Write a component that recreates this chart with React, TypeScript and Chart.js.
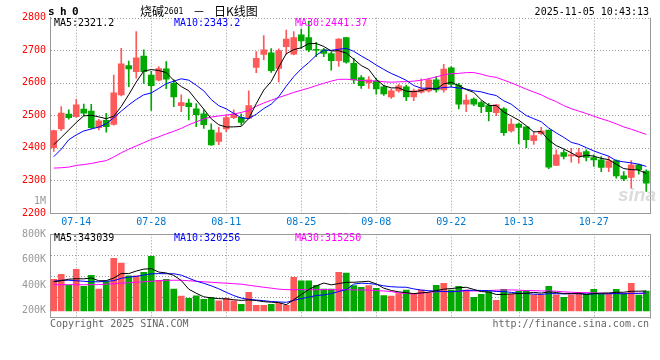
import React, { useEffect, useRef } from 'react';
import { Chart, registerables } from 'chart.js';

Chart.register(...registerables);

// ---------- data ----------
const DATES = [
  '07-09','07-10','07-11','07-14','07-15','07-16','07-17','07-18','07-21','07-22',
  '07-23','07-24','07-25','07-28','07-29','07-30','07-31','08-01','08-04','08-05',
  '08-06','08-07','08-08','08-11','08-12','08-13','08-14','08-15','08-18','08-19',
  '08-20','08-21','08-22','08-25','08-26','08-27','08-28','08-29','09-01','09-02',
  '09-03','09-04','09-05','09-08','09-09','09-10','09-11','09-12','09-15','09-16',
  '09-17','09-18','09-19','09-22','09-23','09-24','09-25','09-26','09-29','09-30',
  '10-09','10-10','10-13','10-14','10-15','10-16','10-17','10-20','10-21','10-22',
  '10-23','10-24','10-27','10-28','10-29','10-30','10-31','11-03','11-04','11-05',
];
const TICK_DATES = ['07-14','07-28','08-11','08-25','09-08','09-22','10-13','10-27'];

const OPEN = [
  2401,2458,2504,2496,2519,2513,2462,2485,2472,2563,
  2653,2634,2682,2624,2608,2643,2598,2530,2538,2520,
  2505,2455,2420,2458,2493,2494,2491,2647,2687,2692,
  2644,2711,2688,2747,2739,2702,2701,2690,2668,2739,
  2660,2616,2600,2605,2588,2557,2575,2588,2557,2571,
  2575,2609,2578,2646,2593,2534,2550,2539,2530,2508,
  2520,2452,2473,2465,2422,2444,2455,2346,2386,2375,
  2373,2389,2370,2363,2340,2361,2314,2309,2348,2329,
];
const HIGH = [
  2455,2527,2517,2549,2535,2534,2488,2506,2624,2706,
  2667,2757,2701,2635,2650,2665,2609,2563,2550,2536,
  2517,2474,2463,2501,2517,2505,2575,2696,2745,2705,
  2704,2762,2757,2765,2790,2724,2706,2695,2736,2740,
  2675,2622,2619,2614,2593,2581,2595,2593,2581,2612,
  2612,2619,2657,2650,2598,2563,2554,2544,2537,2534,
  2524,2489,2476,2465,2450,2463,2455,2394,2394,2399,
  2399,2394,2379,2373,2373,2363,2327,2361,2350,2333,
];
const LOW = [
  2389,2453,2488,2494,2498,2459,2455,2448,2470,2560,
  2588,2614,2598,2515,2606,2582,2527,2511,2486,2465,
  2460,2408,2410,2450,2490,2470,2490,2631,2670,2632,
  2603,2688,2686,2706,2696,2680,2680,2639,2650,2660,
  2598,2583,2583,2565,2561,2552,2571,2545,2545,2568,
  2571,2571,2571,2588,2520,2511,2530,2508,2483,2499,
  2438,2448,2412,2401,2411,2440,2336,2346,2366,2356,
  2353,2360,2343,2327,2327,2307,2299,2276,2319,2266,
];
const CLOSE = [
  2453,2507,2493,2532,2507,2462,2483,2465,2569,2658,
  2643,2677,2634,2591,2644,2611,2557,2539,2527,2502,
  2471,2409,2446,2493,2504,2478,2530,2675,2701,2637,
  2699,2734,2739,2729,2701,2700,2690,2668,2734,2663,
  2609,2591,2609,2581,2566,2575,2591,2557,2575,2581,
  2609,2578,2642,2595,2534,2547,2534,2527,2511,2532,
  2447,2473,2463,2425,2438,2452,2341,2379,2374,2379,
  2386,2371,2363,2340,2360,2314,2305,2348,2333,2292,
];

const MA5 = [
  2410,2432,2455,2478,2498.4,2500.2,2495.4,2489.8,2497.2,2527.4,
  2563.6,2602.4,2636.2,2640.6,2637.8,2631.4,2607.4,2588.4,2575.6,2547.2,
  2519.2,2489.6,2471,2464.2,2464.6,2466,2490.2,2536,2577.6,2604.2,
  2648.4,2689.2,2702,2707.6,2720.4,2720.6,2711.8,2697.6,2698.6,2691,
  2672.8,2653,2641.2,2610.6,2591.2,2584.4,2584.4,2574,2572.8,2575.8,
  2582.6,2580,2597,2601,2591.6,2579.2,2570.4,2547.4,2530.6,2530.2,
  2510.2,2498,2485.2,2468,2449.2,2450.2,2423.8,2407,2396.8,2385,
  2371.8,2377.8,2374.6,2367.8,2364,2349.6,2336.4,2333.4,2332,2321.2,
];
const MA10 = [
  2373,2396,2425,2440,2452,2458,2464,2474,2493,2512.9,
  2531.9,2548.9,2563,2568.9,2582.6,2597.5,2604.9,2612.3,2608.1,2592.5,
  2575.3,2548.5,2529.7,2519.9,2505.9,2492.6,2489.9,2503.5,2520.9,2534.4,
  2557.2,2589.7,2619,2642.6,2662.3,2684.5,2700.5,2699.8,2703.1,2705.7,
  2696.7,2682.4,2669.4,2654.6,2641.1,2628.6,2618.7,2607.6,2591.7,2583.5,
  2583.5,2582.2,2585.5,2586.9,2583.7,2580.9,2575.2,2572.2,2565.8,2560.9,
  2544.7,2534.2,2516.3,2499.3,2489.7,2480.2,2460.9,2446.1,2432.4,2417.1,
  2411,2400.8,2390.8,2382.3,2374.5,2360.7,2357.1,2354,2349.9,2343.2,
];
const MA30 = [
  2338,2339,2341,2346,2349,2352,2357,2361,2372,2385,
  2396,2406,2416,2426,2434,2443,2451,2460,2471,2480,
  2489,2495,2498,2501,2504,2509,2515,2528,2538,2546.6,
  2554.8,2562.4,2570.6,2577.1,2583.6,2591.5,2598.4,2605.2,2610.7,2610.9,
  2609.7,2606.9,2606,2605.7,2603.1,2601.9,2603,2603.6,2605.2,2607.9,
  2612.5,2618.1,2624.6,2628,2629,2631.3,2631.5,2626.5,2620.2,2616.7,
  2608.3,2599.6,2590.4,2580.3,2571.5,2563.2,2551.6,2542,2530,2520.5,
  2513.1,2505.7,2497.5,2489.5,2482.6,2473.9,2464.4,2457.4,2449.4,2441.37,
];

const VOLUME = [
  448000,487000,403000,526000,393000,479000,370000,429000,612000,575000,
  474000,474000,502000,628000,440000,448000,370000,315000,299000,317000,
  291000,304000,278000,299000,278000,252000,346000,244000,244000,252000,
  260000,244000,463000,435000,435000,401000,370000,370000,502000,497000,
  398000,385000,398000,377000,320000,315000,336000,362000,336000,362000,
  338000,401000,416000,362000,393000,362000,307000,330000,351000,283000,
  369000,330000,354000,359000,325000,325000,393000,325000,307000,325000,
  346000,330000,369000,330000,330000,369000,336000,416000,323000,356000,
];
const VMA5 = [
  428000,436000,448000,452000,451000,458000,436000,437000,457000,493000,
  492000,512000,527000,531000,504000,497000,478000,438000,370000,338000,
  310000,302000,296000,294000,287000,282000,286000,281000,272000,268000,
  265000,248000,288000,328000,367000,396000,418000,404000,414000,424000,
  424000,428000,432000,411000,378000,360000,349000,342000,335000,341000,
  346000,358000,370000,375000,381000,385000,368000,351000,348000,328000,
  329000,333000,336000,338000,345000,339000,349000,344000,335000,335000,
  338000,328000,335000,339000,340000,345000,346000,354000,354000,356000,
];
const VMA10 = [
  432000,440000,440000,436000,432000,428000,428000,432000,436000,455000,
  465000,470000,481000,490000,492000,491000,491000,480000,456000,433000,
  416000,396000,373000,345000,320000,300000,290000,285000,280000,273000,
  270000,267000,282000,296000,308000,320000,325000,335000,352000,366000,
  410000,417000,414000,408000,396000,389000,386000,385000,372000,363000,
  358000,354000,352000,350000,354000,361000,361000,360000,358000,352000,
  351000,345000,338000,336000,331000,329000,335000,335000,333000,335000,
  334000,333000,334000,333000,334000,336000,333000,338000,338000,340000,
];
const VMA30 = [
  405000,405000,405000,405000,405000,405000,406000,409000,413000,417000,
  420000,424000,428000,432000,436000,440000,440000,440000,436000,432000,
  428000,424000,420000,417000,413000,409000,401000,393000,385000,378000,
  370000,366000,366000,366000,366000,366000,366000,366000,366000,366000,
  364000,364000,362000,359000,356000,351000,341000,336000,333000,338000,
  346000,349000,351000,351000,354000,356000,356000,356000,359000,362000,
  364000,364000,362000,359000,359000,356000,356000,354000,349000,346000,
  343000,343000,341000,338000,338000,338000,338000,336000,336000,336000,
];

const PRICE_TICKS = [2200, 2300, 2400, 2500, 2600, 2700, 2800];
const VOL_TICKS = [200000, 400000, 600000, 800000];
const VOL_BASE = 200000;
const VOL_MIN = 148000;
const VOL_MAX = 800000;
const GRID_STEPS = [1, 2, 3];

// ---------- style ----------
const UP = '#ff5a5a';
const DOWN = '#00a800';
const MONO = '"DejaVu Sans Mono", "Liberation Mono", monospace';
const GRID = '#9a9a9a';
const FRAME = '#999999';

const candleColors = CLOSE.map((c, i) => (c >= OPEN[i] ? UP : DOWN));

// dotted grid drawn from the chart's own scales, plus the solid frame edges
const gridPlugin = {
  id: 'dotgrid',
  beforeDatasetsDraw(chart: any, _args: any, opts: any) {
    const { ctx, chartArea: a, scales } = chart;
    ctx.save();
    ctx.strokeStyle = GRID;
    ctx.lineWidth = 1;
    ctx.setLineDash([1, 2]);
    ctx.beginPath();
    const ys = scales[opts.yScale];
    const yVals: number[] = opts.yValues || [];
    yVals.forEach((v) => {
      const y = Math.round(ys.getPixelForValue(v)) + 0.5;
      ctx.moveTo(a.left + 1, y);
      ctx.lineTo(a.right, y);
    });
    const xs = scales.x;
    DATES.forEach((d, i) => {
      if (!TICK_DATES.includes(d)) return;
      const x = Math.round(xs.getPixelForValue(i)) + 0.5;
      ctx.moveTo(x, a.top);
      ctx.lineTo(x, a.bottom);
    });
    ctx.stroke();
    ctx.restore();
  },
  afterDatasetsDraw(chart: any, _args: any, opts: any) {
    const { ctx, chartArea: a } = chart;
    ctx.save();
    ctx.strokeStyle = FRAME;
    ctx.lineWidth = 1;
    ctx.setLineDash([]);
    ctx.beginPath();
    const sides: string[] = opts.sides || [];
    if (sides.includes('right')) {
      const x = Math.round(a.right) + 0.5;
      ctx.moveTo(x, a.top);
      ctx.lineTo(x, a.bottom + 1);
    }
    if (sides.includes('top')) {
      const y = Math.round(a.top) + 0.5;
      ctx.moveTo(a.left, y);
      ctx.lineTo(a.right + 1, y);
    }
    ctx.stroke();
    ctx.restore();
  },
};

function lineDs(label: string, data: number[], color: string) {
  return {
    type: 'line' as const,
    label,
    data,
    borderColor: color,
    borderWidth: 1,
    pointRadius: 0,
    tension: 0,
    fill: false,
    order: 0,
  };
}

function Txt(props: any) {
  const { x, right, cy, size = 10, color = '#000', bold = false, family = MONO, ls, children } = props;
  const style: any = {
    position: 'absolute',
    top: cy - size * 0.62,
    fontSize: size,
    lineHeight: `${Math.round(size * 1.2)}px`,
    fontFamily: family,
    color,
    fontWeight: bold ? 'bold' : 'normal',
    whiteSpace: 'nowrap',
  };
  if (ls !== undefined) style.letterSpacing = ls;
  if (right !== undefined) {
    style.right = right;
    style.textAlign = 'right';
  } else style.left = x;
  return <div style={style}>{children}</div>;
}

export default function App() {
  const mainRef = useRef<HTMLCanvasElement>(null);
  const volRef = useRef<HTMLCanvasElement>(null);

  useEffect(() => {
    const main = new Chart(mainRef.current as HTMLCanvasElement, {
      type: 'bar',
      data: {
        labels: DATES,
        datasets: [
          lineDs('MA5', MA5, '#000000'),
          lineDs('MA10', MA10, '#0000ff'),
          lineDs('MA30', MA30, '#ff00ff'),
          {
            label: 'body',
            data: OPEN.map((o, i) => [o, CLOSE[i]]),
            backgroundColor: candleColors,
            barThickness: 6,
            grouped: false,
            minBarLength: 1,
            order: 1,
          } as any,
          {
            label: 'wick',
            data: LOW.map((l, i) => [l, HIGH[i]]),
            backgroundColor: candleColors,
            barThickness: 1,
            grouped: false,
            order: 2,
          } as any,
        ],
      },
      options: {
        responsive: false,
        maintainAspectRatio: false,
        animation: false,
        layout: { padding: { top: 17.7, right: 10, left: 0, bottom: 0 } },
        plugins: {
          legend: { display: false },
          tooltip: { enabled: false },
          dotgrid: { sides: ['right'], yScale: 'y', yValues: PRICE_TICKS.slice(1) },
        } as any,
        scales: {
          x: {
            offset: true,
            grid: { display: false, drawTicks: false },
            border: { display: true, color: FRAME },
            ticks: {
              autoSkip: false,
              maxRotation: 0,
              minRotation: 0,
              padding: 3.5,
              color: '#0078d0',
              font: { family: MONO, size: 10 },
              callback: (_v: any, i: number) => (TICK_DATES.includes(DATES[i]) ? DATES[i] : ''),
            },
            afterFit: (s: any) => {
              s.height = 15;
            },
          },
          y: {
            min: 2200,
            max: 2800,
            afterBuildTicks: (s: any) => {
              s.ticks = PRICE_TICKS.map((v) => ({ value: v }));
            },
            grid: { display: false, drawTicks: false },
            border: { display: true, color: FRAME },
            ticks: {
              padding: 4,
              color: '#ff0000',
              font: { family: MONO, size: 10 },
              callback: (v: any) => String(v),
            },
            afterFit: (s: any) => {
              s.width = 50;
            },
          },
        },
      },
      plugins: [gridPlugin],
    });

    const vol = new Chart(volRef.current as HTMLCanvasElement, {
      type: 'bar',
      data: {
        labels: DATES,
        datasets: [
          lineDs('MA5', VMA5, '#000000'),
          lineDs('MA10', VMA10, '#0000ff'),
          lineDs('MA30', VMA30, '#ff00ff'),
          {
            label: 'volume',
            data: VOLUME.map((v) => [VOL_BASE, v]),
            backgroundColor: candleColors,
            barThickness: 6,
            grouped: false,
            order: 1,
          } as any,
        ],
      },
      options: {
        responsive: false,
        maintainAspectRatio: false,
        animation: false,
        layout: { padding: { top: 10.3, right: 10, left: 0, bottom: 42.5 } },
        plugins: {
          legend: { display: false },
          tooltip: { enabled: false },
          dotgrid: { sides: ['right', 'top'], yScale: 'yg', yValues: GRID_STEPS },
        } as any,
        scales: {
          x: {
            offset: true,
            grid: { display: false, drawTicks: false },
            border: { display: true, color: FRAME },
            ticks: { display: false, autoSkip: false, maxRotation: 0 },
            afterFit: (s: any) => {
              s.height = 0;
            },
          },
          y: {
            min: VOL_MIN,
            max: VOL_MAX,
            afterBuildTicks: (s: any) => {
              s.ticks = VOL_TICKS.map((v) => ({ value: v }));
            },
            grid: { display: false, drawTicks: false },
            border: { display: true, color: FRAME },
            ticks: {
              padding: 4,
              color: '#999999',
              font: { family: MONO, size: 10 },
              callback: (v: any) => `${Math.round(Number(v) / 1000)}K`,
            },
            afterFit: (s: any) => {
              s.width = 50;
            },
          },
          yg: {
            display: false,
            position: 'left',
            min: 0,
            max: 4,
          },
        } as any,
      },
      plugins: [gridPlugin],
    });

    return () => {
      main.destroy();
      vol.destroy();
    };
  }, []);

  const CJK = '"Noto Sans CJK SC", sans-serif';

  return (
    <div style={{ position: 'absolute', left: 0, top: 0, width: 660, height: 360, background: '#ffffff', overflow: 'hidden' }}>
      <canvas ref={mainRef} width={660} height={228} style={{ position: 'absolute', left: 0, top: 0, width: 660, height: 228 }} />
      <canvas ref={volRef} width={660} height={136} style={{ position: 'absolute', left: 0, top: 224, width: 660, height: 136 }} />

      {/* header */}
      <Txt x={48} cy={12} size={11} bold ls="-0.6px">s h 0</Txt>
      <Txt x={140} cy={11} size={12} family={CJK}>烧碱</Txt>
      <Txt x={164} cy={12} size={8}>2601</Txt>
      <Txt x={193} cy={11} size={12} family={CJK}>－</Txt>
      <Txt x={214} cy={11} size={12} family={CJK}>日K线图</Txt>
      <Txt right={11} cy={12}>2025-11-05 10:43:13</Txt>

      {/* main MA legend */}
      <Txt x={54} cy={23.5} color="#000000">MA5:2321.2</Txt>
      <Txt x={174} cy={23.5} color="#0000ff">MA10:2343.2</Txt>
      <Txt x={295} cy={23.5} color="#ff00ff">MA30:2441.37</Txt>

      <Txt right={614} cy={200.7} color="#999999">1M</Txt>

      <div
        style={{
          position: 'absolute',
          left: 618,
          top: 184,
          fontFamily: '"Liberation Sans", sans-serif',
          fontStyle: 'italic',
          fontWeight: 'bold',
          fontSize: 19,
          lineHeight: '22px',
          color: 'rgba(190,190,190,0.55)',
        }}
      >
        sina
      </div>

      {/* volume MA legend */}
      <Txt x={54} cy={238.3} color="#000000">MA5:343039</Txt>
      <Txt x={174} cy={238.3} color="#0000ff">MA10:320256</Txt>
      <Txt x={295} cy={238.3} color="#ff00ff">MA30:315250</Txt>

      {/* footer */}
      <Txt x={50} cy={324} color="#666666">Copyright 2025 SINA.COM</Txt>
      <Txt right={11} cy={324} color="#666666">http://finance.sina.com.cn</Txt>
    </div>
  );
}
